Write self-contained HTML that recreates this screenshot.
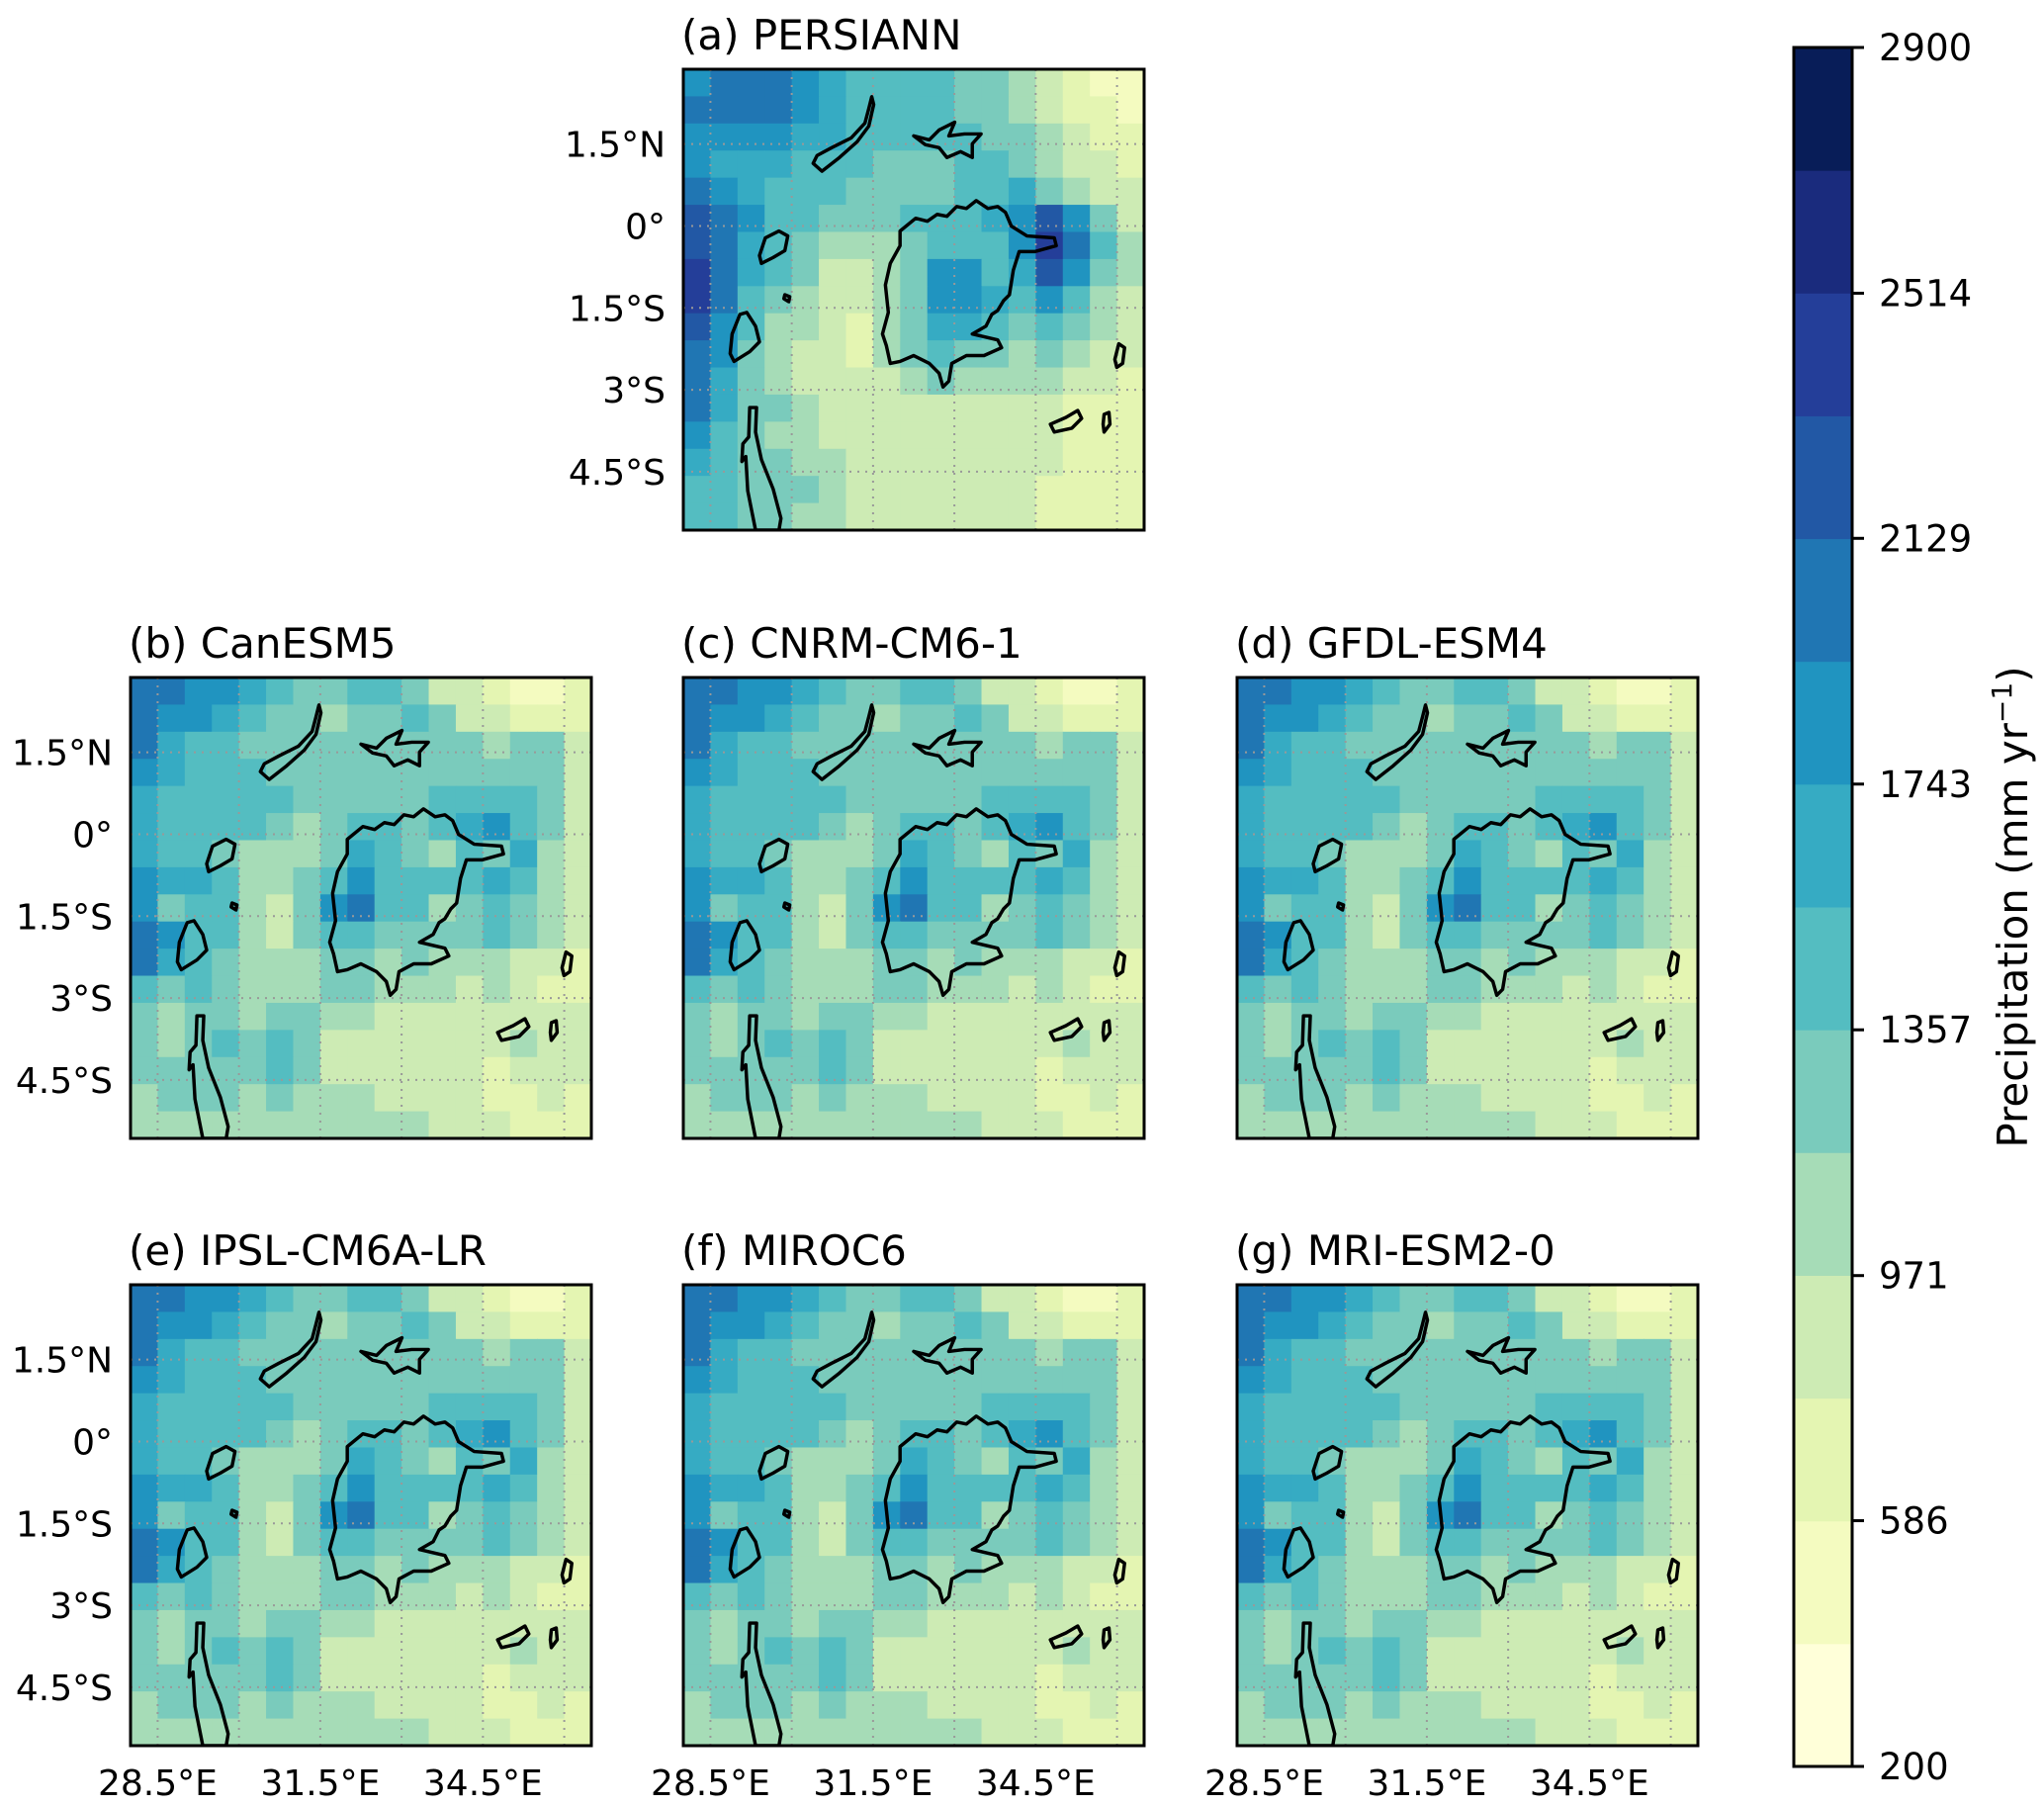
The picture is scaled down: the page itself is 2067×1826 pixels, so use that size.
<!DOCTYPE html>
<html><head><meta charset="utf-8">
<style>
html,body{margin:0;padding:0;background:#fff;}
svg{display:block;font-family:"DejaVu Sans","Liberation Sans",sans-serif;}
</style></head>
<body>
<svg id="fig" width="2067" height="1826" viewBox="0 0 2067 1826" xmlns="http://www.w3.org/2000/svg"></svg>
<script>
// ---- data (level index 0..13, bin k covers 200+k*192.86 .. mm/yr) ----
const levelBounds = [200,392.9,585.7,778.6,971.4,1164.3,1357.1,1550,1742.9,1935.7,2128.6,2321.4,2514.3,2707.1,2900];
const cbTickValues = [200,586,971,1357,1743,2129,2514,2900];
const lonTicks = [28.5,31.5,34.5];
const lonTickLabels = ["28.5°E","31.5°E","34.5°E"];
const latTicks = [1.5,0,-1.5,-3,-4.5];
const latTickLabels = ["1.5°N","0°","1.5°S","3°S","4.5°S"];
const panelTitles = ["(a) PERSIANN","(b) CanESM5","(c) CNRM-CM6-1","(d) GFDL-ESM4","(e) IPSL-CM6A-LR","(f) MIROC6","(g) MRI-ESM2-0"];
const fieldPERSIANN = [
"8,9,9,9,8,7,6,6,6,6,5,5,4,3,2,1,1",
"9,9,9,9,8,7,6,6,6,6,5,5,4,3,2,2,1",
"8,8,8,8,7,7,6,6,6,6,6,5,5,4,3,2,2",
"8,7,7,7,6,6,6,5,5,5,6,6,5,4,3,3,2",
"9,8,7,6,6,6,5,5,5,5,6,6,7,5,4,3,3",
"10,9,8,6,6,5,5,5,6,6,6,7,8,10,8,5,3",
"10,9,7,6,5,4,4,4,5,6,6,6,8,11,9,6,4",
"11,9,7,6,5,3,3,4,5,8,8,6,7,10,8,5,4",
"11,9,6,5,4,3,3,4,5,8,8,7,6,8,6,4,3",
"10,8,6,4,4,3,2,4,5,7,7,6,5,6,5,4,3",
"9,8,5,4,3,3,2,4,5,6,5,5,4,5,4,3,3",
"9,7,5,4,3,3,3,3,4,5,4,4,4,4,3,3,2",
"9,7,5,5,4,3,3,3,3,3,3,3,3,3,2,2,2",
"8,6,5,4,4,3,3,3,3,3,3,3,3,3,2,2,2",
"7,6,5,5,4,4,3,3,3,3,3,3,3,3,2,2,2",
"6,6,5,5,5,4,3,3,3,3,3,3,3,2,2,2,2",
"6,6,5,5,4,4,3,3,3,3,3,3,3,2,2,2,2"];
const fieldModel = [
"9,9,8,8,7,6,5,5,6,6,5,3,3,2,1,1,2",
"9,8,8,7,6,5,5,4,5,5,6,5,3,3,2,2,2",
"9,7,6,6,5,5,5,5,5,5,5,5,5,4,5,5,3",
"8,7,6,6,6,5,5,5,5,5,5,5,5,5,5,5,3",
"7,6,6,6,6,6,5,5,5,5,5,6,6,6,6,5,3",
"7,6,6,6,6,5,4,5,6,6,5,6,7,8,6,5,3",
"7,6,6,5,4,4,4,5,7,6,5,4,6,5,7,4,3",
"8,7,7,6,4,4,5,6,8,6,6,6,6,7,6,4,3",
"8,5,6,6,4,3,5,8,9,6,6,4,5,6,5,4,3",
"9,8,6,6,4,3,5,6,6,5,5,5,5,6,5,4,3",
"9,7,6,5,4,4,4,5,5,4,5,4,4,4,3,3,2",
"6,5,6,5,4,4,4,5,5,4,4,4,3,4,3,2,2",
"5,4,5,5,4,5,5,4,4,3,3,3,3,3,3,3,3",
"5,4,5,6,5,6,5,3,3,3,3,3,3,3,4,3,3",
"5,5,5,5,5,6,5,3,3,3,3,3,3,2,3,3,3",
"4,5,5,5,4,5,4,4,4,3,3,3,3,2,2,3,2",
"4,4,4,4,4,4,4,4,4,4,4,3,3,3,2,2,2"];
const panelFields = [fieldPERSIANN, fieldModel, fieldModel, fieldModel, fieldModel, fieldModel, fieldModel];

// ---- layout ----
const NS="http://www.w3.org/2000/svg";
const svg=document.getElementById('fig');
const PW=466, PH=466;
const panelPos=[[691,70],[132,685],[691,685],[1251,685],[132,1299],[691,1299],[1251,1299]];
const lon0=28.0, lon1=36.5, lat0=2.87, lat1=-5.57;
function xScale(lon){return (lon-lon0)/(lon1-lon0)*PW;}
function yScale(lat){return (lat0-lat)/(lat0-lat1)*PH;}
const anchors=["#ffffd9","#edf8b1","#c7e9b4","#7fcdbb","#41b6c4","#1d91c0","#225ea8","#253494","#081d58"];
function hex(h){return [1,3,5].map(i=>parseInt(h.substr(i,2),16));}
function cmap(t){const p=t*(anchors.length-1);const i=Math.min(Math.floor(p),anchors.length-2);const f=p-i;const a=hex(anchors[i]),b=hex(anchors[i+1]);return 'rgb('+a.map((v,j)=>Math.round(v+(b[j]-v)*f)).join(',')+')';}
const nLev=levelBounds.length-1;
function levColor(k){return cmap(k/(nLev-1));}
function mk(tag,attrs,parent){const e=document.createElementNS(NS,tag);for(const k in attrs)e.setAttribute(k,attrs[k]);(parent||svg).appendChild(e);return e;}

const lakes=[
 "M193,28 L190,40 L186,55 L172,70 L152,80 L137,88 L133,96 L142,104 L160,90 L178,74 L190,58 L195,36 Z",
 "M236,68 L252,72 L262,62 L278,54 L272,68 L288,66 L305,66 L296,76 L296,90 L284,84 L270,90 L262,80 L248,77 Z",
 "M222,165 L238,152 L250,155 L260,148 L270,150 L280,140 L290,142 L300,134 L312,142 L322,140 L330,146 L336,160 L352,170 L380,172 L382,180 L360,186 L344,186 L338,205 L334,230 L328,236 L322,246 L316,250 L310,262 L296,270 L322,276 L326,284 L308,292 L290,292 L275,300 L272,318 L266,324 L262,310 L252,300 L236,292 L222,298 L212,300 L208,282 L204,270 L210,248 L207,220 L212,198 L222,180 Z",
 "M78,190 L84,172 L98,165 L107,170 L104,185 L92,192 L80,198 Z",
 "M104,230 L109,232 L108,237 L103,234 Z",
 "M58,250 L65,248 L74,262 L78,278 L68,288 L52,298 L48,290 L50,270 Z",
 "M68,345 L75,345 L74,370 L80,398 L92,428 L100,458 L98,470 L74,470 L66,430 L64,395 L60,400 L61,382 L67,375 Z",
 "M446,280 L452,284 L450,300 L444,304 L442,296 Z",
 "M376,362 L392,355 L404,348 L408,356 L398,366 L380,370 Z",
 "M431,352 L436,350 L437,362 L431,370 L430,362 Z"];

panelPos.forEach((pp,pi)=>{
  const [px,py]=pp;
  const g=mk('g',{transform:`translate(${px},${py})`});
  
  
  const cpId='clip'+pi;
  const cp=mk('clipPath',{id:cpId},g);mk('rect',{x:0,y:0,width:PW,height:PH},cp);
  const cells=mk('g',{'clip-path':`url(#${cpId})`},g);
  const rows=panelFields[pi].map(r=>r.split(',').map(Number));
  const nr=rows.length,nc=rows[0].length;
  const dLon=(lon1-lon0)/nc,dLat=(lat0-lat1)/nr;
  rows.forEach((row,r)=>row.forEach((v,c)=>{
    const x0=xScale(lon0+c*dLon),x1=xScale(lon0+(c+1)*dLon);
    const y0=yScale(lat0-r*dLat),y1=yScale(lat0-(r+1)*dLat);
    const e=mk('rect',{x:x0,y:y0,width:x1-x0+0.6,height:y1-y0+0.6,fill:levColor(v)},cells);
    
    
  }));
  const gl=mk('g',{'clip-path':`url(#${cpId})`},g);
  for(let lon=28.5;lon<=36.01;lon+=1.5){const x=xScale(lon);mk('line',{x1:x,y1:0,x2:x,y2:PH,stroke:'#999',"stroke-width":2,"stroke-dasharray":"2,6"},gl);}
  for(let lat=1.5;lat>=-4.51;lat-=1.5){const y=yScale(lat);mk('line',{x1:0,y1:y,x2:PW,y2:y,stroke:'#999',"stroke-width":2,"stroke-dasharray":"2,6"},gl);}
  const lk=mk('g',{transform:`scale(${PW/472},${PH/470})`},gl);
  lakes.forEach(d=>{mk('path',{d:d,fill:'none',stroke:'#000',"stroke-width":3.5,"stroke-linejoin":"round"},lk);});
  const fr=mk('rect',{x:0,y:0,width:PW,height:PH,fill:'none',stroke:'#000',"stroke-width":3},g);
  
  
  const t=mk('text',{x:-2,y:-20,"font-size":42,fill:'#000'},g);t.textContent=panelTitles[pi];
  
  
  if(pi===0||pi===1||pi===4){latTicks.forEach((lat,i)=>{const tx=mk('text',{x:-18,y:yScale(lat)+13,"font-size":36,"text-anchor":"end"},g);tx.textContent=latTickLabels[i];
    
    });}
  if(pi>=4){lonTicks.forEach((lon,i)=>{const tx=mk('text',{x:xScale(lon),y:PH+50,"font-size":36,"text-anchor":"middle"},g);tx.textContent=lonTickLabels[i];
    
    });}
});

// colorbar
const cbX=1814,cbW=59,cbTop=48,cbBot=1786;
function cbY(v){return cbBot-(v-levelBounds[0])/(levelBounds[nLev]-levelBounds[0])*(cbBot-cbTop);}
const cb=mk('g',{});


for(let k=0;k<nLev;k++){const y0=cbY(levelBounds[k+1]),y1=cbY(levelBounds[k]);
  const r=mk('rect',{x:cbX,y:y0,width:cbW,height:y1-y0+0.5,fill:levColor(k)},cb);
  
  }
mk('rect',{x:cbX,y:cbTop,width:cbW,height:cbBot-cbTop,fill:'none',stroke:'#000',"stroke-width":3},cb);
cbTickValues.forEach(v=>{const y=cbY(v);mk('line',{x1:cbX+cbW,y1:y,x2:cbX+cbW+12,y2:y,stroke:'#000',"stroke-width":3},cb);
  const tx=mk('text',{x:1900,y:y+13,"font-size":37},cb);tx.textContent=String(v);
  
  });
const lab=mk('text',{x:0,y:0,"font-size":42,"text-anchor":"middle",transform:`translate(2050,${(cbTop+cbBot)/2}) rotate(-90)`},cb);
lab.innerHTML='Precipitation (mm yr<tspan dy="-16" font-size="28">−1</tspan><tspan dy="16">)</tspan>';


</script>
</body></html>
